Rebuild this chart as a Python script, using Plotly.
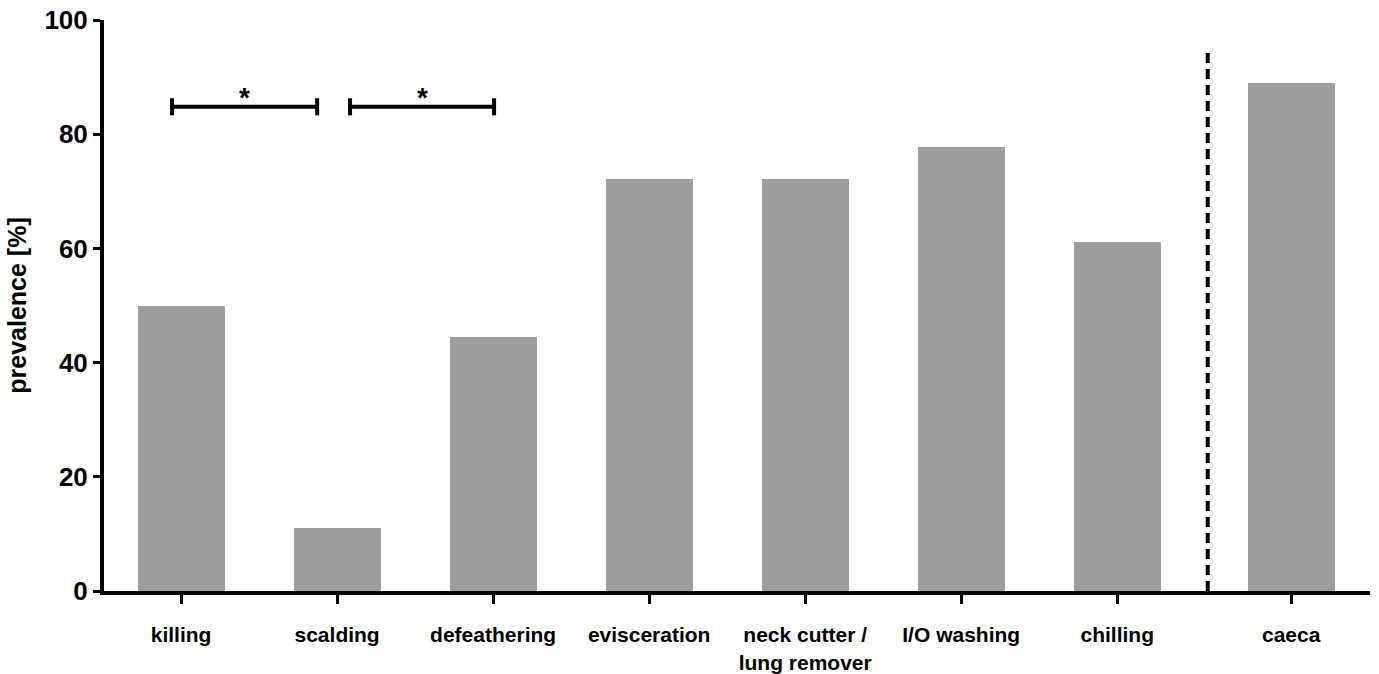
import plotly.graph_objects as go

# Prevalence per processing step (and caeca reference sample)
categories = ["killing", "scalding", "defeathering", "evisceration",
              "neck cutter /<br>lung remover", "I/O washing", "chilling", "caeca"]
prevalence = [50.0, 11.1, 44.4, 72.2, 72.2, 77.8, 61.1, 88.9]
positions = [0, 1, 2, 3, 4, 5, 6, 7.115]

# Significance brackets: (x start, x end, height, label)
brackets = [(-0.058, 0.872, 84.8, "*"), (1.083, 2.006, 84.8, "*")]
separator_x = 6.58
separator_top = 94.2

y_ticks = [0, 20, 40, 60, 80, 100]

FONT = "Liberation Sans, Arial, Helvetica, sans-serif"
BAR_COLOR = "#9e9e9e"

fig = go.Figure()
fig.add_trace(go.Bar(
    x=positions, y=prevalence, width=0.558,
    marker=dict(color=BAR_COLOR, line=dict(width=0)),
    hoverinfo="skip", showlegend=False,
))

shapes = []
annotations = []
cap = 1.5
for x0, x1, h, label in brackets:
    shapes.append(dict(type="line", xref="x", yref="y", x0=x0, x1=x1, y0=h, y1=h,
                       line=dict(color="black", width=4)))
    for xe in (x0, x1):
        shapes.append(dict(type="line", xref="x", yref="y", x0=xe, x1=xe,
                           y0=h - cap, y1=h + cap, line=dict(color="black", width=4)))
    # the asterisk glyph sits high in its line box, so anchor it a bit lower
    annotations.append(dict(x=(x0 + x1) / 2, y=h - 1.4, xref="x", yref="y", text=label,
                            showarrow=False, yanchor="bottom",
                            font=dict(family=FONT, size=28, color="black", weight="bold")))

shapes.append(dict(type="line", xref="x", yref="y", x0=separator_x, x1=separator_x,
                   y0=0, y1=separator_top,
                   line=dict(color="black", width=4, dash="10px,6px")))

fig.update_layout(
    width=1379, height=674,
    margin=dict(l=104, r=9, t=20, b=83),
    paper_bgcolor="white", plot_bgcolor="white",
    shapes=shapes, annotations=annotations,
    font=dict(family=FONT, color="black", weight="bold"),
    xaxis=dict(
        range=[-0.494, 7.62], showgrid=False, zeroline=False, automargin=False,
        showline=True, linecolor="black", linewidth=4,
        tickmode="array", tickvals=positions, ticktext=categories,
        ticks="outside", ticklen=9, tickwidth=3, tickcolor="black",
        ticklabelstandoff=13,
        tickfont=dict(family=FONT, size=21, color="black", weight="bold"),
    ),
    yaxis=dict(
        range=[0, 100], showgrid=False, zeroline=False, automargin=False,
        showline=True, linecolor="black", linewidth=4,
        tickmode="array", tickvals=y_ticks,
        ticks="outside", ticklen=7, tickwidth=3, tickcolor="black",
        tickfont=dict(family=FONT, size=26, color="black", weight="bold"),
        title=dict(text="prevalence [%]", standoff=12,
                   font=dict(family=FONT, size=25, color="black", weight="bold")),
    ),
    bargap=0,
)

fig.write_html("out.html")
